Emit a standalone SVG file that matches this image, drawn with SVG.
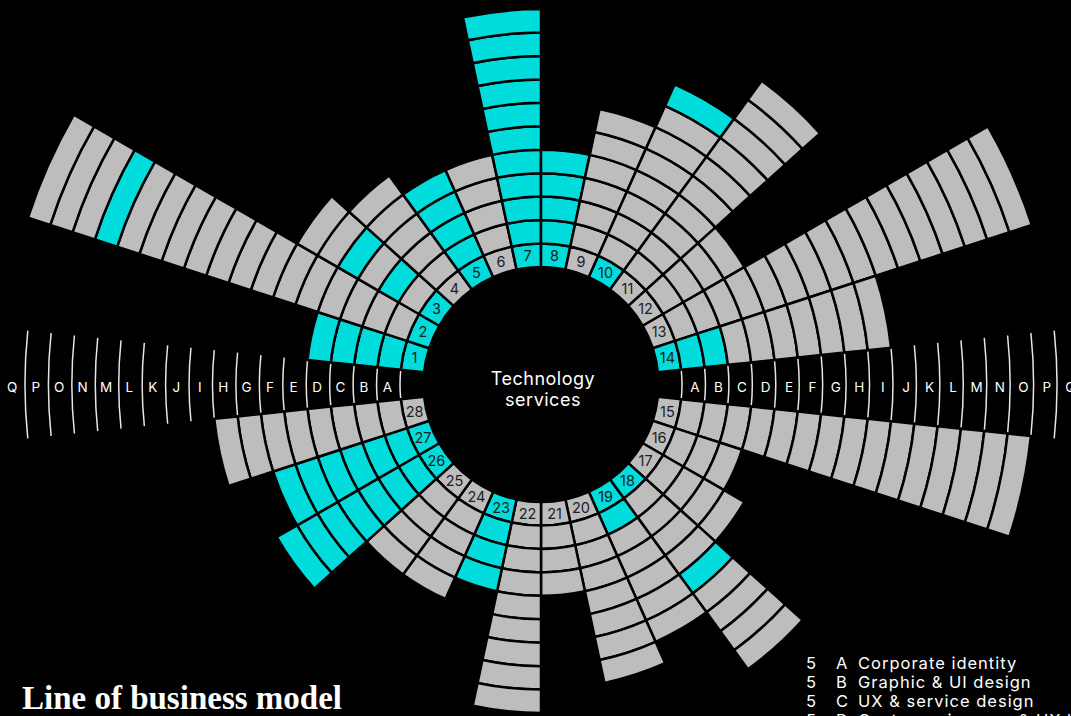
<svg xmlns="http://www.w3.org/2000/svg" xmlns:xlink="http://www.w3.org/1999/xlink" width="1071" height="716" viewBox="0 0 1071 716">
<style>
use.g{fill:#bdbdbd}
use.c{fill:#00dcdc}
use.g,use.c{stroke:#000;stroke-width:2.5;stroke-linejoin:round}
.n{font-family:Inter,"Liberation Sans",sans-serif;font-size:14.5px;fill:#1e1e1e;text-anchor:middle;dominant-baseline:central}
.rl{font-family:Inter,"Liberation Sans",sans-serif;font-size:13.5px;fill:#fff;text-anchor:middle}
.arc{fill:none;stroke:#e6e6e6;stroke-width:1.5}
.ctr{font-family:Inter,"Liberation Sans",sans-serif;font-size:18px;fill:#fff;text-anchor:middle;letter-spacing:0.5px}
.lg{font-family:Inter,"Liberation Sans",sans-serif;font-size:16.5px;fill:#fff;letter-spacing:1px}
.title{font-family:"Liberation Serif",serif;font-weight:bold;font-size:33px;fill:#fff}
</style>
<defs>
<path id="r0" d="M116.856,-12.282 A117.5,117.5 0 0 1 116.856,12.282 L140.228,14.738 A141,141 0 0 0 140.228,-14.738 Z"/>
<path id="r1" d="M140.228,-14.738 A141,141 0 0 1 140.228,14.738 L163.539,17.189 A164.44,164.44 0 0 0 163.539,-17.189 Z"/>
<path id="r2" d="M163.539,-17.189 A164.44,164.44 0 0 1 163.539,17.189 L186.851,19.639 A187.88,187.88 0 0 0 186.851,-19.639 Z"/>
<path id="r3" d="M186.851,-19.639 A187.88,187.88 0 0 1 186.851,19.639 L210.162,22.089 A211.32,211.32 0 0 0 210.162,-22.089 Z"/>
<path id="r4" d="M210.162,-22.089 A211.32,211.32 0 0 1 210.162,22.089 L233.474,24.539 A234.76,234.76 0 0 0 233.474,-24.539 Z"/>
<path id="r5" d="M233.474,-24.539 A234.76,234.76 0 0 1 233.474,24.539 L256.786,26.989 A258.2,258.2 0 0 0 256.786,-26.989 Z"/>
<path id="r6" d="M256.786,-26.989 A258.2,258.2 0 0 1 256.786,26.989 L280.097,29.439 A281.64,281.64 0 0 0 280.097,-29.439 Z"/>
<path id="r7" d="M280.097,-29.439 A281.64,281.64 0 0 1 280.097,29.439 L303.409,31.889 A305.08,305.08 0 0 0 303.409,-31.889 Z"/>
<path id="r8" d="M303.409,-31.889 A305.08,305.08 0 0 1 303.409,31.889 L326.72,34.339 A328.52,328.52 0 0 0 326.72,-34.339 Z"/>
<path id="r9" d="M326.72,-34.339 A328.52,328.52 0 0 1 326.72,34.339 L350.032,36.79 A351.96,351.96 0 0 0 350.032,-36.79 Z"/>
<path id="r10" d="M350.032,-36.79 A351.96,351.96 0 0 1 350.032,36.79 L373.344,39.24 A375.4,375.4 0 0 0 373.344,-39.24 Z"/>
<path id="r11" d="M373.344,-39.24 A375.4,375.4 0 0 1 373.344,39.24 L396.655,41.69 A398.84,398.84 0 0 0 396.655,-41.69 Z"/>
<path id="r12" d="M396.655,-41.69 A398.84,398.84 0 0 1 396.655,41.69 L419.967,44.14 A422.28,422.28 0 0 0 419.967,-44.14 Z"/>
<path id="r13" d="M419.967,-44.14 A422.28,422.28 0 0 1 419.967,44.14 L443.278,46.59 A445.72,445.72 0 0 0 443.278,-46.59 Z"/>
<path id="r14" d="M443.278,-46.59 A445.72,445.72 0 0 1 443.278,46.59 L466.59,49.04 A469.16,469.16 0 0 0 466.59,-49.04 Z"/>
<path id="r15" d="M466.59,-49.04 A469.16,469.16 0 0 1 466.59,49.04 L489.902,51.49 A492.6,492.6 0 0 0 489.902,-51.49 Z"/>
<path id="r16" d="M489.902,-51.49 A492.6,492.6 0 0 1 489.902,51.49 L513.213,53.94 A516.04,516.04 0 0 0 513.213,-53.94 Z"/>
<path id="r17" d="M513.213,-53.94 A516.04,516.04 0 0 1 513.213,53.94 L536.525,56.391 A539.48,539.48 0 0 0 536.525,-56.391 Z"/>
<path id="gaparcs" d="M140.228,-14.738 A141,141 0 0 1 140.228,14.738 M163.539,-17.189 A164.44,164.44 0 0 1 163.539,17.189 M186.851,-19.639 A187.88,187.88 0 0 1 186.851,19.639 M210.162,-22.089 A211.32,211.32 0 0 1 210.162,22.089 M233.474,-24.539 A234.76,234.76 0 0 1 233.474,24.539 M256.786,-26.989 A258.2,258.2 0 0 1 256.786,26.989 M280.097,-29.439 A281.64,281.64 0 0 1 280.097,29.439 M303.409,-31.889 A305.08,305.08 0 0 1 303.409,31.889 M326.72,-34.339 A328.52,328.52 0 0 1 326.72,34.339 M350.032,-36.79 A351.96,351.96 0 0 1 350.032,36.79 M373.344,-39.24 A375.4,375.4 0 0 1 373.344,39.24 M396.655,-41.69 A398.84,398.84 0 0 1 396.655,41.69 M419.967,-44.14 A422.28,422.28 0 0 1 419.967,44.14 M443.278,-46.59 A445.72,445.72 0 0 1 443.278,46.59 M466.59,-49.04 A469.16,469.16 0 0 1 466.59,49.04 M489.902,-51.49 A492.6,492.6 0 0 1 489.902,51.49 M513.213,-53.94 A516.04,516.04 0 0 1 513.213,53.94"/>
</defs>
<rect width="1071" height="716" fill="#000"/>

<g id="gap-arcs">
<use href="#gaparcs" class="arc" transform="translate(541 384.5)"/>
<use href="#gaparcs" class="arc" transform="translate(541 384.5) rotate(180)"/>
</g>

<g id="ring-labels" class="rl">
<text x="695" y="391.5">A</text><text x="718.5" y="391.5">B</text><text x="742" y="391.5">C</text><text x="765.5" y="391.5">D</text><text x="789" y="391.5">E</text><text x="812.4" y="391.5">F</text><text x="835.9" y="391.5">G</text><text x="859.3" y="391.5">H</text><text x="882.7" y="391.5">I</text><text x="906.2" y="391.5">J</text><text x="929.6" y="391.5">K</text><text x="953.1" y="391.5">L</text><text x="976.5" y="391.5">M</text><text x="999.9" y="391.5">N</text><text x="1023.4" y="391.5">O</text><text x="1046.8" y="391.5">P</text><text x="1070.3" y="391.5">Q</text>
<text x="387.3" y="391.5">A</text><text x="363.8" y="391.5">B</text><text x="340.4" y="391.5">C</text><text x="317" y="391.5">D</text><text x="293.5" y="391.5">E</text><text x="270.1" y="391.5">F</text><text x="246.6" y="391.5">G</text><text x="223.2" y="391.5">H</text><text x="199.8" y="391.5">I</text><text x="176.3" y="391.5">J</text><text x="152.9" y="391.5">K</text><text x="129.4" y="391.5">L</text><text x="106" y="391.5">M</text><text x="82.6" y="391.5">N</text><text x="59.1" y="391.5">O</text><text x="35.7" y="391.5">P</text><text x="12.2" y="391.5">Q</text>
</g>

<g id="sector-1" transform="translate(541 384.5) rotate(-168)">
<use href="#r0" class="c"/><use href="#r1" class="c"/><use href="#r2" class="c"/><use href="#r3" class="c"/><use href="#r4" class="c"/>
<text class="n" transform="translate(129.25 0) rotate(168)">1</text>
</g>
<g id="sector-2" transform="translate(541 384.5) rotate(-156)">
<use href="#r0" class="c"/><use href="#r1" class="g"/><use href="#r2" class="g"/><use href="#r3" class="g"/><use href="#r4" class="g"/><use href="#r5" class="g"/><use href="#r6" class="g"/><use href="#r7" class="g"/><use href="#r8" class="g"/><use href="#r9" class="g"/><use href="#r10" class="g"/><use href="#r11" class="g"/><use href="#r12" class="g"/><use href="#r13" class="g"/><use href="#r14" class="c"/><use href="#r15" class="g"/><use href="#r16" class="g"/><use href="#r17" class="g"/>
<text class="n" transform="translate(129.25 0) rotate(156)">2</text>
</g>
<g id="sector-3" transform="translate(541 384.5) rotate(-144)">
<use href="#r0" class="c"/><use href="#r1" class="g"/><use href="#r2" class="c"/><use href="#r3" class="g"/><use href="#r4" class="c"/><use href="#r5" class="g"/><use href="#r6" class="g"/>
<text class="n" transform="translate(129.25 0) rotate(144)">3</text>
</g>
<g id="sector-4" transform="translate(541 384.5) rotate(-132)">
<use href="#r0" class="g"/><use href="#r1" class="g"/><use href="#r2" class="g"/><use href="#r3" class="g"/><use href="#r4" class="g"/><use href="#r5" class="g"/>
<text class="n" transform="translate(129.25 0) rotate(132)">4</text>
</g>
<g id="sector-5" transform="translate(541 384.5) rotate(-120)">
<use href="#r0" class="c"/><use href="#r1" class="c"/><use href="#r2" class="c"/><use href="#r3" class="c"/><use href="#r4" class="c"/>
<text class="n" transform="translate(129.25 0) rotate(120)">5</text>
</g>
<g id="sector-6" transform="translate(541 384.5) rotate(-108)">
<use href="#r0" class="g"/><use href="#r1" class="g"/><use href="#r2" class="g"/><use href="#r3" class="g"/><use href="#r4" class="g"/>
<text class="n" transform="translate(129.25 0) rotate(108)">6</text>
</g>
<g id="sector-7" transform="translate(541 384.5) rotate(-96)">
<use href="#r0" class="c"/><use href="#r1" class="c"/><use href="#r2" class="c"/><use href="#r3" class="c"/><use href="#r4" class="c"/><use href="#r5" class="c"/><use href="#r6" class="c"/><use href="#r7" class="c"/><use href="#r8" class="c"/><use href="#r9" class="c"/><use href="#r10" class="c"/>
<text class="n" transform="translate(129.25 0) rotate(96)">7</text>
</g>
<g id="sector-8" transform="translate(541 384.5) rotate(-84)">
<use href="#r0" class="c"/><use href="#r1" class="c"/><use href="#r2" class="c"/><use href="#r3" class="c"/><use href="#r4" class="c"/>
<text class="n" transform="translate(129.25 0) rotate(84)">8</text>
</g>
<g id="sector-9" transform="translate(541 384.5) rotate(-72)">
<use href="#r0" class="g"/><use href="#r1" class="g"/><use href="#r2" class="g"/><use href="#r3" class="g"/><use href="#r4" class="g"/><use href="#r5" class="g"/><use href="#r6" class="g"/>
<text class="n" transform="translate(129.25 0) rotate(72)">9</text>
</g>
<g id="sector-10" transform="translate(541 384.5) rotate(-60)">
<use href="#r0" class="c"/><use href="#r1" class="g"/><use href="#r2" class="g"/><use href="#r3" class="g"/><use href="#r4" class="g"/><use href="#r5" class="g"/><use href="#r6" class="g"/><use href="#r7" class="g"/><use href="#r8" class="c"/>
<text class="n" transform="translate(129.25 0) rotate(60)">10</text>
</g>
<g id="sector-11" transform="translate(541 384.5) rotate(-48)">
<use href="#r0" class="g"/><use href="#r1" class="g"/><use href="#r2" class="g"/><use href="#r3" class="g"/><use href="#r4" class="g"/><use href="#r5" class="g"/><use href="#r6" class="g"/><use href="#r7" class="g"/><use href="#r8" class="g"/><use href="#r9" class="g"/><use href="#r10" class="g"/>
<text class="n" transform="translate(129.25 0) rotate(48)">11</text>
</g>
<g id="sector-12" transform="translate(541 384.5) rotate(-36)">
<use href="#r0" class="g"/><use href="#r1" class="g"/><use href="#r2" class="g"/><use href="#r3" class="g"/><use href="#r4" class="g"/>
<text class="n" transform="translate(129.25 0) rotate(36)">12</text>
</g>
<g id="sector-13" transform="translate(541 384.5) rotate(-24)">
<use href="#r0" class="g"/><use href="#r1" class="g"/><use href="#r2" class="g"/><use href="#r3" class="g"/><use href="#r4" class="g"/><use href="#r5" class="g"/><use href="#r6" class="g"/><use href="#r7" class="g"/><use href="#r8" class="g"/><use href="#r9" class="g"/><use href="#r10" class="g"/><use href="#r11" class="g"/><use href="#r12" class="g"/><use href="#r13" class="g"/><use href="#r14" class="g"/><use href="#r15" class="g"/><use href="#r16" class="g"/>
<text class="n" transform="translate(129.25 0) rotate(24)">13</text>
</g>
<g id="sector-14" transform="translate(541 384.5) rotate(-12)">
<use href="#r0" class="c"/><use href="#r1" class="c"/><use href="#r2" class="c"/><use href="#r3" class="g"/><use href="#r4" class="g"/><use href="#r5" class="g"/><use href="#r6" class="g"/><use href="#r7" class="g"/><use href="#r8" class="g"/><use href="#r9" class="g"/>
<text class="n" transform="translate(129.25 0) rotate(12)">14</text>
</g>
<g id="sector-15" transform="translate(541 384.5) rotate(12)">
<use href="#r0" class="g"/><use href="#r1" class="g"/><use href="#r2" class="g"/><use href="#r3" class="g"/><use href="#r4" class="g"/><use href="#r5" class="g"/><use href="#r6" class="g"/><use href="#r7" class="g"/><use href="#r8" class="g"/><use href="#r9" class="g"/><use href="#r10" class="g"/><use href="#r11" class="g"/><use href="#r12" class="g"/><use href="#r13" class="g"/><use href="#r14" class="g"/><use href="#r15" class="g"/>
<text class="n" transform="translate(129.25 0) rotate(-12)">15</text>
</g>
<g id="sector-16" transform="translate(541 384.5) rotate(24)">
<use href="#r0" class="g"/><use href="#r1" class="g"/><use href="#r2" class="g"/><use href="#r3" class="g"/>
<text class="n" transform="translate(129.25 0) rotate(-24)">16</text>
</g>
<g id="sector-17" transform="translate(541 384.5) rotate(36)">
<use href="#r0" class="g"/><use href="#r1" class="g"/><use href="#r2" class="g"/><use href="#r3" class="g"/><use href="#r4" class="g"/>
<text class="n" transform="translate(129.25 0) rotate(-36)">17</text>
</g>
<g id="sector-18" transform="translate(541 384.5) rotate(48)">
<use href="#r0" class="c"/><use href="#r1" class="g"/><use href="#r2" class="g"/><use href="#r3" class="g"/><use href="#r4" class="g"/><use href="#r5" class="c"/><use href="#r6" class="g"/><use href="#r7" class="g"/><use href="#r8" class="g"/><use href="#r9" class="g"/>
<text class="n" transform="translate(129.25 0) rotate(-48)">18</text>
</g>
<g id="sector-19" transform="translate(541 384.5) rotate(60)">
<use href="#r0" class="c"/><use href="#r1" class="c"/><use href="#r2" class="g"/><use href="#r3" class="g"/><use href="#r4" class="g"/><use href="#r5" class="g"/><use href="#r6" class="g"/>
<text class="n" transform="translate(129.25 0) rotate(-60)">19</text>
</g>
<g id="sector-20" transform="translate(541 384.5) rotate(72)">
<use href="#r0" class="g"/><use href="#r1" class="g"/><use href="#r2" class="g"/><use href="#r3" class="g"/><use href="#r4" class="g"/><use href="#r5" class="g"/><use href="#r6" class="g"/><use href="#r7" class="g"/>
<text class="n" transform="translate(129.25 0) rotate(-72)">20</text>
</g>
<g id="sector-21" transform="translate(541 384.5) rotate(84)">
<use href="#r0" class="g"/><use href="#r1" class="g"/><use href="#r2" class="g"/><use href="#r3" class="g"/>
<text class="n" transform="translate(129.25 0) rotate(-84)">21</text>
</g>
<g id="sector-22" transform="translate(541 384.5) rotate(96)">
<use href="#r0" class="g"/><use href="#r1" class="g"/><use href="#r2" class="g"/><use href="#r3" class="g"/><use href="#r4" class="g"/><use href="#r5" class="g"/><use href="#r6" class="g"/><use href="#r7" class="g"/><use href="#r8" class="g"/>
<text class="n" transform="translate(129.25 0) rotate(-96)">22</text>
</g>
<g id="sector-23" transform="translate(541 384.5) rotate(108)">
<use href="#r0" class="c"/><use href="#r1" class="c"/><use href="#r2" class="c"/><use href="#r3" class="c"/>
<text class="n" transform="translate(129.25 0) rotate(-108)">23</text>
</g>
<g id="sector-24" transform="translate(541 384.5) rotate(120)">
<use href="#r0" class="g"/><use href="#r1" class="g"/><use href="#r2" class="g"/><use href="#r3" class="g"/><use href="#r4" class="g"/>
<text class="n" transform="translate(129.25 0) rotate(-120)">24</text>
</g>
<g id="sector-25" transform="translate(541 384.5) rotate(132)">
<use href="#r0" class="g"/><use href="#r1" class="g"/><use href="#r2" class="g"/><use href="#r3" class="g"/><use href="#r4" class="g"/>
<text class="n" transform="translate(129.25 0) rotate(-132)">25</text>
</g>
<g id="sector-26" transform="translate(541 384.5) rotate(144)">
<use href="#r0" class="c"/><use href="#r1" class="c"/><use href="#r2" class="c"/><use href="#r3" class="c"/><use href="#r4" class="c"/><use href="#r5" class="c"/><use href="#r6" class="c"/><use href="#r7" class="c"/>
<text class="n" transform="translate(129.25 0) rotate(-144)">26</text>
</g>
<g id="sector-27" transform="translate(541 384.5) rotate(156)">
<use href="#r0" class="c"/><use href="#r1" class="c"/><use href="#r2" class="c"/><use href="#r3" class="c"/><use href="#r4" class="c"/><use href="#r5" class="c"/><use href="#r6" class="c"/>
<text class="n" transform="translate(129.25 0) rotate(-156)">27</text>
</g>
<g id="sector-28" transform="translate(541 384.5) rotate(168)">
<use href="#r0" class="g"/><use href="#r1" class="g"/><use href="#r2" class="g"/><use href="#r3" class="g"/><use href="#r4" class="g"/><use href="#r5" class="g"/><use href="#r6" class="g"/><use href="#r7" class="g"/><use href="#r8" class="g"/>
<text class="n" transform="translate(129.25 0) rotate(-168)">28</text>
</g>

<g id="center-label" class="ctr">
<text x="543" y="385">Technology</text>
<text x="543" y="406">services</text>
</g>

<g id="legend" class="lg">
<text x="806" y="669">5</text><text x="836" y="669">A</text><text x="858" y="669">Corporate identity</text>
<text x="806" y="688">5</text><text x="836" y="688">B</text><text x="858" y="688">Graphic &amp; UI design</text>
<text x="806" y="707">5</text><text x="836" y="707">C</text><text x="858" y="707">UX &amp; service design</text>
<text x="806" y="726">5</text><text x="836" y="726">D</text><text x="858" y="726">Customer journey &amp; UX lab</text>
</g>

<text id="title" class="title" x="22" y="709">Line of business model</text>
</svg>
